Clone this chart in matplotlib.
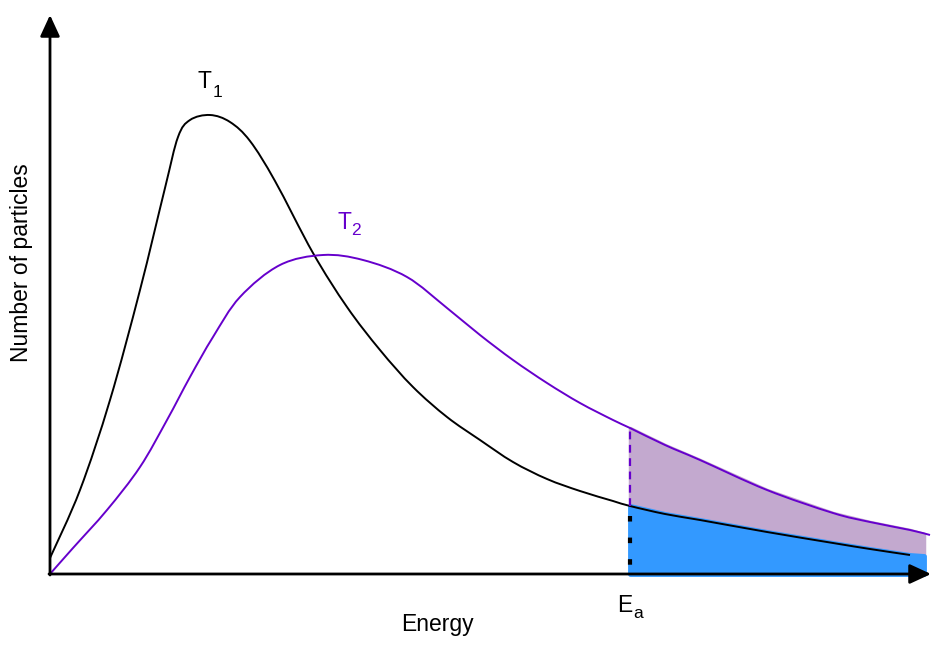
import matplotlib
matplotlib.use('Agg')
import matplotlib.pyplot as plt
from matplotlib.path import Path
from matplotlib.patches import PathPatch
import numpy as np

plt.rcParams['font.family'] = ['Liberation Sans', 'DejaVu Sans']

# curve T1 (lower temperature) - energy vs number of particles
t1_energy = [0, 30, 60, 90, 115, 128, 140, 160, 180, 200, 225, 263, 297, 330,
             363, 397, 430, 463, 497, 530, 563, 580, 615, 650, 717, 783, 820, 860]
t1_count = [16, 84, 174, 284, 386, 437, 454, 459, 452, 433, 393, 321, 267, 224,
            187, 157, 134, 112, 95, 83, 73, 68, 60, 54, 42, 31, 25, 19]

# curve T2 (higher temperature)
t2_energy = [0, 23, 57, 90, 117, 140, 163, 190, 230, 273, 313, 357, 397, 430, 463,
             497, 530, 563, 580, 615, 650, 717, 783, 820, 860, 880]
t2_count = [0, 26, 64, 107, 154, 197, 237, 277, 309, 319, 314, 297, 266, 239, 214,
            191, 171, 154, 146, 129, 114, 84, 61, 52, 44, 39]

# shaded region beyond the activation energy
ea = 580
shade_energy = [580, 615, 650, 717, 783, 820, 860, 874]
shade_t1 = [68, 60, 54, 42, 31, 25, 19, 18]
shade_t2 = [146, 129, 114, 84, 61, 52, 44, 40]


def smooth_path(x, y):
    # catmull-rom through the read points, drawn as cubic bezier segments
    p = np.column_stack([x, y]).astype(float)
    p = np.vstack([p[0], p, p[-1]])
    verts = [p[1]]
    codes = [Path.MOVETO]
    for i in range(1, len(p) - 2):
        c1 = p[i] + (p[i + 1] - p[i - 1]) / 6
        c2 = p[i + 1] - (p[i + 2] - p[i]) / 6
        verts += [c1, c2, p[i + 1]]
        codes += [Path.CURVE4] * 3
    return Path(verts, codes)


purple = '#6600CC'
fig = plt.figure(figsize=(9.48, 6.56), dpi=100)
ax = fig.add_axes([0, 0, 1, 1])
ax.set_xlim(-50, 898)
ax.set_ylim(-82, 574)
ax.axis('off')

# shaded areas
ax.fill_between(shade_energy, shade_t1, shade_t2, facecolor='#C3A9CF',
                edgecolor='#C3A9CF', linewidth=2.5, joinstyle='round', zorder=1)
ax.fill_between(shade_energy, 0, shade_t1, facecolor='#3399FF',
                edgecolor='#3399FF', linewidth=3.5, joinstyle='round', zorder=2)

# curves
ax.add_patch(PathPatch(smooth_path(t1_energy, t1_count), fill=False,
                       edgecolor='black', lw=1.4, zorder=4))
ax.add_patch(PathPatch(smooth_path(t2_energy, t2_count), fill=False,
                       edgecolor=purple, lw=1.4, zorder=4))

# markers at Ea
ax.plot([ea, ea], [shade_t1[0], shade_t2[0]], color=purple, lw=1.6,
        linestyle=(0, (3.5, 2.5)), zorder=5)
ax.plot([ea, ea], [58, 0], color='black', lw=3,
        linestyle=(0, (1.33, 3.85)), dash_capstyle='butt', zorder=5)

# axes arrows
arrow = dict(arrowstyle='-|>,head_length=0.65,head_width=0.3', lw=2,
             color='black', mutation_scale=20, shrinkA=0, shrinkB=0)
ax.annotate('', xy=(0, 559), xytext=(0, -1), arrowprops=arrow, zorder=6)
ax.annotate('', xy=(881, 0), xytext=(-1, 0), arrowprops=arrow, zorder=6)

# labels
fs = 16.5
sub = 12.5
ax.text(148, 486, 'T', fontsize=fs, ha='left', va='baseline')
ax.text(163, 477, '1', fontsize=sub, ha='left', va='baseline')
ax.text(288, 345, 'T', fontsize=fs, ha='left', va='baseline', color=purple)
ax.text(301, 339, '2', fontsize=sub, ha='left', va='baseline', color=purple)
ax.text(567, -38, 'E', fontsize=fs, ha='left', va='baseline')
ax.text(583, -44, 'a', fontsize=sub, ha='left', va='baseline')
ax.text(387, -51, 'Energy', fontsize=fs, ha='center', va='center')
ax.text(-28, 311, 'Number of particles', fontsize=fs, ha='center', va='center',
        rotation=90)

fig.savefig('out.png', dpi=100)
